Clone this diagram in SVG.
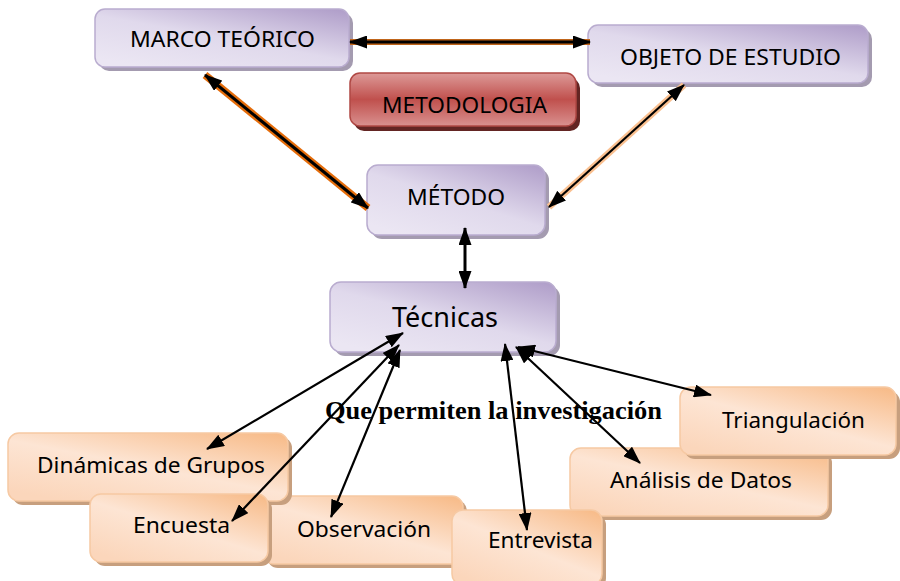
<svg xmlns="http://www.w3.org/2000/svg" width="900" height="581" viewBox="0 0 900 581">
<defs>
<linearGradient id="gPurple" x1="1" y1="0" x2="0.2" y2="1">
<stop offset="0" stop-color="#ae9cc8"/>
<stop offset="0.55" stop-color="#e0d9ec"/>
<stop offset="1" stop-color="#ebe6f3"/>
</linearGradient>
<linearGradient id="gOrange" x1="1" y1="0" x2="0.2" y2="1">
<stop offset="0" stop-color="#f7b985"/>
<stop offset="0.55" stop-color="#fde5d4"/>
<stop offset="1" stop-color="#fbd6bb"/>
</linearGradient>
<linearGradient id="gRed" x1="0" y1="0" x2="0" y2="1">
<stop offset="0" stop-color="#dd9a98"/>
<stop offset="0.5" stop-color="#c0504d"/>
<stop offset="1" stop-color="#d9918f"/>
</linearGradient>
<marker id="ah" viewBox="0 0 18 13" refX="17" refY="6.5" markerWidth="18" markerHeight="13" markerUnits="userSpaceOnUse" orient="auto-start-reverse">
<path d="M0,0 L18,6.5 L0,13 z" fill="#000"/>
</marker>
</defs>
<style>
.sp{fill:#a49bb0}
.bp{fill:url(#gPurple);stroke:#b9accf;stroke-width:1.5}
.so{fill:#c79f7e}
.bo{fill:url(#gOrange);stroke:#f6c9a3;stroke-width:1.5}
.t{font-family:"Noto Sans","Open Sans",sans-serif;font-size:21.5px;fill:#000}
.ln{fill:none;stroke:#000;stroke-width:2.2;marker-start:url(#ah);marker-end:url(#ah)}
.lt{fill:none;stroke:#000;stroke-width:3;marker-start:url(#ah);marker-end:url(#ah)}
.q{font-family:"Liberation Serif","Times New Roman",serif;font-weight:bold;font-size:25px;fill:#000}
</style>

<g id="marco-teorico">
<rect class="sp" x="99" y="13" width="254" height="58" rx="10"/>
<rect class="bp" x="95" y="9" width="254" height="58" rx="10"/>
<text class="t" x="130" y="47" textLength="185" lengthAdjust="spacingAndGlyphs">MARCO TEÓRICO</text>
</g>

<g id="objeto-de-estudio">
<rect class="sp" x="592" y="29" width="280" height="58" rx="10"/>
<rect class="bp" x="588" y="25" width="280" height="58" rx="10"/>
<text class="t" x="620" y="65" textLength="221" lengthAdjust="spacingAndGlyphs">OBJETO DE ESTUDIO</text>
</g>

<g id="metodologia">
<rect x="354" y="78" width="226" height="53" rx="10" fill="#632523"/>
<rect x="350" y="73" width="226" height="53" rx="10" fill="url(#gRed)" stroke="#b04844" stroke-width="1.5"/>
<text class="t" x="382" y="113" textLength="165" lengthAdjust="spacingAndGlyphs">METODOLOGIA</text>
</g>

<g id="metodo">
<rect class="sp" x="371" y="169" width="178" height="70" rx="11"/>
<rect class="bp" x="367" y="165" width="178" height="70" rx="11"/>
<text class="t" x="407" y="205" textLength="98" lengthAdjust="spacingAndGlyphs">MÉTODO</text>
</g>

<g id="tecnicas">
<rect class="sp" x="334" y="286" width="226" height="70" rx="11"/>
<rect class="bp" x="330" y="282" width="226" height="70" rx="11"/>
<text class="t" x="392" y="327" style="font-size:28px" textLength="106" lengthAdjust="spacingAndGlyphs">Técnicas</text>
</g>

<g id="observacion">
<rect class="so" x="267" y="500" width="200" height="68" rx="11"/>
<rect class="bo" x="263" y="496" width="200" height="68" rx="11"/>
<text class="t" x="297" y="537" textLength="134" lengthAdjust="spacingAndGlyphs">Observación</text>
</g>

<g id="dinamicas-de-grupos">
<rect class="so" x="12" y="437" width="280" height="68" rx="11"/>
<rect class="bo" x="8" y="433" width="280" height="68" rx="11"/>
<text class="t" x="37" y="473" textLength="228" lengthAdjust="spacingAndGlyphs">Dinámicas de Grupos</text>
</g>

<g id="encuesta">
<rect class="so" x="94" y="498" width="178" height="68" rx="11"/>
<rect class="bo" x="90" y="494" width="178" height="68" rx="11"/>
<text class="t" x="133" y="533" textLength="97" lengthAdjust="spacingAndGlyphs">Encuesta</text>
</g>

<g id="analisis-de-datos">
<rect class="so" x="574" y="452" width="258" height="68" rx="11"/>
<rect class="bo" x="570" y="448" width="258" height="68" rx="11"/>
<text class="t" x="610" y="488" textLength="182" lengthAdjust="spacingAndGlyphs">Análisis de Datos</text>
</g>

<g id="entrevista">
<rect class="so" x="456" y="514" width="150" height="75" rx="11"/>
<rect class="bo" x="452" y="510" width="150" height="75" rx="11"/>
<text class="t" x="488" y="548" textLength="105" lengthAdjust="spacingAndGlyphs">Entrevista</text>
</g>

<g id="triangulacion">
<rect class="so" x="684" y="391" width="216" height="68" rx="11"/>
<rect class="bo" x="680" y="387" width="216" height="68" rx="11"/>
<text class="t" x="722" y="428" textLength="143" lengthAdjust="spacingAndGlyphs">Triangulación</text>
</g>

<g id="label-que-permiten">
<text class="q" x="325" y="419" textLength="337" lengthAdjust="spacingAndGlyphs">Que permiten la investigación</text>
</g>

<g id="connectors">
<line x1="350" y1="42" x2="590" y2="42" stroke="#c0651a" stroke-width="6"/>
<line class="lt" x1="350" y1="42" x2="590" y2="42"/>
<line x1="205" y1="75" x2="368" y2="208" stroke="#e46c0a" stroke-width="7.5"/>
<line class="lt" x1="205" y1="75" x2="368" y2="208"/>
<line x1="549" y1="207" x2="684" y2="85" stroke="#fac090" stroke-width="6.5"/>
<line class="ln" x1="549" y1="207" x2="684" y2="85"/>
<line class="lt" x1="465" y1="228" x2="465" y2="288"/>
<line class="ln" x1="403" y1="333" x2="207" y2="449"/>
<line class="ln" x1="399" y1="345" x2="232" y2="521"/>
<line class="ln" x1="400" y1="350" x2="331" y2="517"/>
<line class="ln" x1="505" y1="344" x2="527" y2="530"/>
<line class="ln" x1="516" y1="347" x2="640" y2="463"/>
<line class="ln" x1="518" y1="347" x2="711" y2="395"/>
</g>
</svg>
